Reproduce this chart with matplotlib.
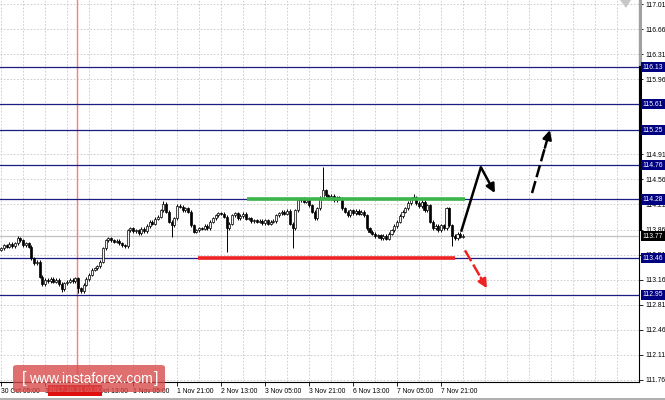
import matplotlib
matplotlib.use("Agg")
import matplotlib.pyplot as plt
from matplotlib.patches import FancyBboxPatch, Rectangle, Polygon
from matplotlib.transforms import blended_transform_factory

plt.rcParams['font.family'] = ['Liberation Sans', 'DejaVu Sans']

# ---------------- data ----------------
first_open = 113.58
closes = [
    113.60, 113.64, 113.62, 113.66, 113.63, 113.67, 113.74, 113.71, 113.64, 113.67,
    113.62, 113.46, 113.39, 113.41, 113.20, 113.10, 113.16, 113.14, 113.17, 113.13,
    113.16, 113.10, 113.03, 113.11, 113.13, 113.16, 113.14, 113.18, 113.04, 113.00,
    113.09, 113.17, 113.23, 113.30, 113.32, 113.35, 113.41, 113.60, 113.71, 113.74,
    113.71, 113.69, 113.70, 113.67, 113.64, 113.63, 113.85, 113.88, 113.84, 113.85,
    113.81, 113.87, 113.84, 113.91, 113.97, 113.94, 114.01, 114.04, 114.13, 114.22,
    114.11, 113.97, 113.92, 114.02, 114.19, 114.18, 114.13, 114.16, 114.11, 113.92,
    113.83, 113.85, 113.88, 113.87, 113.91, 113.88, 113.97, 114.02, 114.06, 114.09,
    114.08, 114.04, 113.88, 113.94, 114.06, 114.09, 114.02, 114.05, 114.08, 114.01,
    114.02, 113.98, 113.99, 113.97, 113.98, 113.95, 113.99, 113.94, 113.97, 113.98,
    114.06, 114.09, 114.11, 114.08, 114.12, 113.94, 113.88, 114.13, 114.27, 114.29,
    114.25, 114.27, 114.20, 114.11, 114.02, 114.16, 114.30, 114.41, 114.34, 114.30,
    114.33, 114.27, 114.31, 114.29, 114.16, 114.11, 114.06, 114.13, 114.09, 114.12,
    114.08, 114.11, 114.06, 113.88, 113.83, 113.80, 113.77, 113.78, 113.74, 113.77,
    113.73, 113.80, 113.85, 113.91, 113.97, 114.05, 114.11, 114.16, 114.23, 114.29,
    114.31, 114.23, 114.19, 114.25, 114.13, 114.20, 113.97, 113.88, 113.91, 113.85,
    113.92, 113.88, 114.16, 113.92, 113.77, 113.74, 113.80, 113.76, 113.77,
]
spike_highs = {59: 114.26, 117: 114.73, 150: 114.35, 6: 113.77}
spike_lows = {22: 112.99, 28: 112.97, 62: 113.76, 82: 113.55, 106: 113.60, 164: 113.63}

levels = [116.13, 115.61, 115.25, 114.76, 114.28, 113.46, 112.95]
current_price = 113.77
y_ticks = [117.01, 116.66, 116.31, 115.96, 115.61, 115.25, 114.91, 114.56, 114.21,
           113.86, 113.51, 113.16, 112.81, 112.46, 112.11, 111.76]
x_tick_pos = [0, 16, 32, 48, 64, 80, 96, 112, 128, 144, 160]
x_tick_labels = ["30 Oct 05:00", "30 Oct 21:00", "31 Oct 13:00", "1 Nov 05:00",
                 "1 Nov 21:00", "2 Nov 13:00", "3 Nov 05:00", "3 Nov 21:00",
                 "6 Nov 13:00", "7 Nov 05:00", "7 Nov 21:00"]
marker_x = 27.5
marker_label = "2017.10.31 03:00"

green_level = 114.28
green_span = [89.5, 168.7]
red_level = 113.46
red_span = [71.6, 165.1]

arrow_up_path = [(167.3, 113.83), (174.5, 114.73), (179.6, 114.37)]
arrow_dash_path = [(193.1, 114.37), (199.6, 115.25)]
arrow_red_path = [(168.7, 113.57), (176.7, 113.04)]

# ---------------- figure ----------------
W, H = 665, 400
fig = plt.figure(figsize=(W / 100, H / 100), dpi=100)
fig.patch.set_facecolor('white')
ax = fig.add_axes([0, 18 / H, 639 / W, 382 / H])
ax.set_xlim(-0.4, 232)
ax.set_ylim(111.731, 117.066)

# grid
ax.set_yticks(y_ticks)
ax.set_xticks(x_tick_pos)
ax.set_xticks([p + 8 for p in x_tick_pos] + [176, 184, 192, 200, 208, 216, 224], minor=True)
ax.grid(True, which='both', linestyle=(0, (2, 2)), color='#c8c8c8', lw=0.6, zorder=0)
ax.set_axisbelow(True)

ax.yaxis.tick_right()
hidden_ticks = set(levels)
ax.set_yticklabels(['' if v in hidden_ticks else f"{v:.2f}" for v in y_ticks])
ax.set_xticklabels(x_tick_labels, ha='left')
ax.tick_params(axis='y', which='major', direction='out', length=3, width=0.6,
               labelsize=4.9, pad=1.5, colors='black')
ax.tick_params(axis='x', which='major', direction='out', length=3, width=0.6,
               labelsize=4.9, pad=1.2)
ax.tick_params(axis='x', which='minor', length=0)
for s in ['top', 'left']:
    ax.spines[s].set_visible(False)
ax.spines['right'].set_linewidth(0.8)
ax.spines['bottom'].set_linewidth(0.8)

# level lines
for lv in levels:
    ax.axhline(lv, color='#1c1c86', lw=0.9, zorder=2)
ax.axhline(current_price, color='#c0c0c0', lw=0.9, zorder=1.5)
ax.axvline(marker_x, color='#ff7a7a', lw=1.0, zorder=1.6)

# candles
opens = [first_open] + closes[:-1]
wick = 0.022
for i, (o, c) in enumerate(zip(opens, closes)):
    hi = spike_highs.get(i, max(o, c) + wick)
    lo = spike_lows.get(i, min(o, c) - wick)
    ax.vlines(i, lo, hi, color='black', lw=0.7, zorder=3)
    body = max(abs(c - o), 0.008)
    face = '#f4f4f4' if c >= o else 'black'
    ax.add_patch(Rectangle((i - 0.38, min(o, c)), 0.76, body, facecolor=face,
                           edgecolor='black', lw=0.5, zorder=4))

# support / resistance strokes
ax.plot(green_span, [green_level, green_level], color='#3cb54a', lw=2.6,
        solid_capstyle='butt', zorder=5)
ax.plot(red_span, [red_level, red_level], color='#ee2424', lw=2.6,
        solid_capstyle='butt', zorder=5)

# arrows
(x0, y0), (x1, y1), (x2, y2) = arrow_up_path
ax.plot([x0, x1], [y0, y1], color='black', lw=1.8, solid_capstyle='butt', zorder=6)
ax.annotate('', xy=(x2, y2), xytext=(x1, y1),
            arrowprops=dict(arrowstyle='-|>', color='black', lw=1.8,
                            mutation_scale=13, shrinkA=0, shrinkB=0), zorder=6)

def dashed_arrow(path, color):
    (sx, sy), (ex, ey) = path
    fx = sx + (ex - sx) * 0.72
    fy = sy + (ey - sy) * 0.72
    ax.plot([sx, fx], [sy, fy], color=color, lw=1.8, dashes=[5, 1.6], zorder=6)
    ax.annotate('', xy=(ex, ey), xytext=(fx, fy),
                arrowprops=dict(arrowstyle='-|>', color=color, lw=1.8,
                                mutation_scale=13, shrinkA=0, shrinkB=0), zorder=6)

dashed_arrow(arrow_dash_path, 'black')
dashed_arrow(arrow_red_path, '#ee2424')

# right-axis thick bar
tr_r = blended_transform_factory(ax.transAxes, ax.transData)
ax.plot([1.0015, 1.0015], [116.13, 117.066], color='#a0a0a0', lw=2.2, transform=tr_r,
        clip_on=False, zorder=7)
ax.plot([1.0015, 1.0015], [113.87, 116.13], color='black', lw=2.2, transform=tr_r,
        clip_on=False, zorder=7)

# highlighted price labels
tr = blended_transform_factory(fig.transFigure, ax.transData)
for lv in levels:
    ax.text(642.5 / W, lv, f"{lv:.2f}", transform=tr, fontsize=4.9, color='white',
            va='center', ha='left', zorder=10, clip_on=False,
            bbox=dict(boxstyle='square,pad=0.25', fc='#000080', ec='none'))
ax.text(642.5 / W, current_price, f"{current_price:.2f}", transform=tr, fontsize=4.9,
        color='white', va='center', ha='left', zorder=10, clip_on=False,
        bbox=dict(boxstyle='square,pad=0.25', fc='black', ec='none'))

# top-right marker
fig.patches.append(Polygon([(620 / W, 1.0), (631 / W, 1.0), (626 / W, 392 / H)],
                           closed=True, transform=fig.transFigure,
                           facecolor='#c8c8c8', edgecolor='none'))

# date marker label on x axis
fig.patches.append(Rectangle((48 / W, 4 / H), 54 / W, 11 / H, transform=fig.transFigure,
                             facecolor='#e01010', edgecolor='none', zorder=5))
fig.text(75 / W, 9.5 / H, marker_label, fontsize=4.9, color='#ffd0d0',
         ha='center', va='center', zorder=6)

# watermark
fig.patches.append(FancyBboxPatch((13 / W, 8 / H), 152 / W, 27 / H,
                                  boxstyle='round,pad=0,rounding_size=0.006',
                                  transform=fig.transFigure, facecolor='#d84848',
                                  edgecolor='none', alpha=0.78, zorder=20))
fig.text(24 / W, 21 / H, "[", fontsize=12, color='white', ha='center', va='center',
         zorder=21)
fig.text(91 / W, 21 / H, "www.instaforex.com", fontsize=10, color='white',
         ha='center', va='center', zorder=21)
fig.text(156 / W, 21 / H, "]", fontsize=12, color='white', ha='center', va='center',
         zorder=21)

# bottom border
fig.patches.append(Rectangle((0, 0), 1, 2.5 / H, transform=fig.transFigure,
                             facecolor='#b0b0b0', edgecolor='none'))

fig.savefig('out.png', dpi=100)
